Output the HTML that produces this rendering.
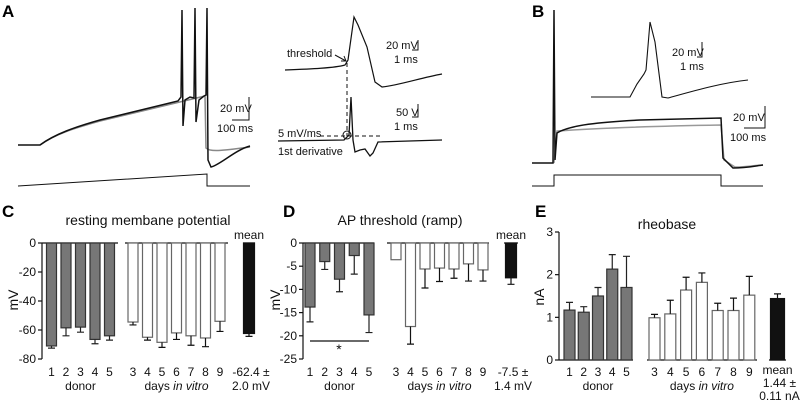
<!DOCTYPE html>
<html><head><meta charset="utf-8"><style>
body{margin:0;background:#fff;}
svg{display:block;font-family:"Liberation Sans",Arial,sans-serif;}
.t{font-size:11px;fill:#111}
.ti{font-size:13px;fill:#111}
.pl{font-size:17px;font-weight:bold;fill:#000}
</style></head><body>
<svg id="fig" width="800" height="407" viewBox="0 0 800 407">
<text class="pl" x="2" y="17">A</text>
<text class="pl" x="532" y="17">B</text>
<text class="pl" x="2" y="217">C</text>
<text class="pl" x="283" y="217">D</text>
<text class="pl" x="535" y="217">E</text>

<g fill="none">
<path stroke="#888" stroke-width="1.5" d="M40,145 C55,134 75,128 100,121 L205,96 L206,148 C210,152 220,151 250,147"/>
<path stroke="#111" stroke-width="1.5" d="M18,145 L40,145 C55,134 75,127 100,120 L178,101 L181,97 L182,10 L183,126 L185,100 L190,97 L194,98 L195,8 L196,122 L199,100 L204,96 L206,95 L207,8 L208,160 L211,167 C220,165 235,150 250,146"/>
<path stroke="#111" stroke-width="1" d="M18,186 L207,174 L207,186 L250,186"/>
<path stroke="#111" stroke-width="1" d="M249,97 L249,120 L232,120"/>
</g>
<text class="t" x="220" y="112">20 mV</text>
<text class="t" x="217" y="132">100 ms</text>

<g fill="none" stroke="#111">
<path stroke-width="1.2" d="M285,70 C310,69 335,68 345,65 L348,60 L354,17 L358,25 L367,47 L375,82 L382,87 C400,85 420,78 442,74"/>
<path stroke-width="1.3" d="M278,141 L344,140 L349,135 L351,97 L353,140 L355,152 L360,150 L365,149 L370,156 L373,153 L378,142 L442,140"/>
<path stroke-width="1" stroke-dasharray="4,3" d="M347,63 L347,136"/>
<path stroke-width="1" stroke-dasharray="4,3" d="M320,136 L380,136"/>
<circle cx="347" cy="135" r="4" stroke-width="1"/>
<path stroke-width="1" d="M335,55 L346,61 M341,61 L346,61 L344,56"/>
<path stroke-width="1" d="M418,40 L418,50 L412,50"/>
<path stroke-width="1" d="M418,104 L418,117 L412,117"/>
</g>
<text class="t" x="287" y="57">threshold</text>
<text class="t" x="386" y="49">20 mV</text>
<text class="t" x="394" y="63">1 ms</text>
<text class="t" x="396" y="116">50 V</text>
<text class="t" x="394" y="130">1 ms</text>
<text class="t" x="278" y="137">5 mV/ms</text>
<text class="t" x="278" y="155">1st derivative</text>

<g fill="none">
<path stroke="#999" stroke-width="1.5" d="M554,163 L557,131 C600,128 660,126 721,125 L724,160 L735,167 C748,167 755,165 763,165"/>
<path stroke="#111" stroke-width="1.5" d="M532,163 L553,163 L554,10 L555,160 L557,133 C570,125 600,122 640,120 L721,118 L723,158 L733,168 C745,168 755,166 763,165"/>
<path stroke="#111" stroke-width="1.1" d="M591,97 L630,97 L637,84 L644,74 L646,70 L650,22 L655,42 L662,97 L668,98 C690,92 720,83 748,80"/>
<path stroke="#111" stroke-width="1" d="M532,186 L554,186 L554,175 L721,175 L721,186 L763,186"/>
<path stroke="#111" stroke-width="1" d="M702,42 L702,57 L697,57"/>
<path stroke="#111" stroke-width="1" d="M765,106 L765,128 L744,128"/>
</g>
<text class="t" x="672" y="56">20 mV</text>
<text class="t" x="680" y="70">1 ms</text>
<text class="t" x="733" y="121">20 mV</text>
<text class="t" x="730" y="141">100 ms</text>

<g id="charts"></g>
</svg>
<script>
const cDonorCats = ["1","2","3","4","5"];
const cDonorVals = [-71, -58.5, -58, -66.5, -64];
const cDonorErr = [1.5, 5.5, 3.5, 3, 3];
const cDivCats = ["3","4","5","6","7","8","9"];
const cDivVals = [-54.5, -65, -68.5, -62, -64, -65.5, -54];
const cDivErr = [2, 2, 3.5, 4.5, 6.5, 6, 7];
const cMean = [-62.4];
const cMeanErr = [2];
const cTicks = [0, -20, -40, -60, -80];

const dDonorCats = ["1","2","3","4","5"];
const dDonorVals = [-13.8, -4, -7.8, -2.7, -15.5];
const dDonorErr = [3.2, 1.7, 2.7, 4, 3.8];
const dDivCats = ["3","4","5","6","7","8","9"];
const dDivVals = [-3.6, -18, -5.6, -5.4, -5.6, -4.5, -5.8];
const dDivErr = [0, 3.8, 4.1, 2.9, 2, 3.7, 2.4];
const dMean = [-7.5];
const dMeanErr = [1.4];
const dTicks = [0, -5, -10, -15, -20, -25];

const eDonorCats = ["1","2","3","4","5"];
const eDonorVals = [1.17, 1.12, 1.5, 2.13, 1.7];
const eDonorErr = [0.18, 0.13, 0.2, 0.34, 0.73];
const eDivCats = ["3","4","5","6","7","8","9"];
const eDivVals = [0.99, 1.08, 1.64, 1.82, 1.16, 1.16, 1.52];
const eDivErr = [0.08, 0.32, 0.3, 0.22, 0.17, 0.29, 0.44];
const eMean = [1.44];
const eMeanErr = [0.11];
const eTicks = [0, 1, 2, 3];

const NS = "http://www.w3.org/2000/svg";
const root = document.getElementById("charts");
function mk(tag, attrs, parent, txt) {
  const e = document.createElementNS(NS, tag);
  for (const k in attrs) e.setAttribute(k, attrs[k]);
  if (txt !== undefined) e.textContent = txt;
  (parent || root).appendChild(e);
  return e;
}

function barGroup(g, cats, vals, errs, x0, step, bw, y, fill, stroke, errCol, labelY, prefix) {
  cats.forEach((c, i) => {
    const cx = x0 + step * i;
    const v = vals[i];
    const top = Math.min(y(0), y(v)), h = Math.abs(y(v) - y(0));
    const r = mk("rect", {x: cx - bw / 2, y: top, width: bw, height: h, fill: fill, stroke: stroke, "stroke-width": 1.2}, g);
    
    
    if (errs[i] > 0) {
      const sign = v < 0 ? -1 : 1;
      const ye = y(v + sign * errs[i]);
      const eb = mk("path", {d: `M${cx},${y(v)} L${cx},${ye} M${cx - 3.5},${ye} L${cx + 3.5},${ye}`, stroke: errCol, "stroke-width": 1.2, fill: "none"}, g);
      
      
    }
    if (labelY) {
      const t = mk("text", {x: cx, y: labelY, class: "t", "text-anchor": "middle", style: "font-size:12px"}, g, c);
      
      
    }
  });
}

function chart(o) {
  const g = mk("g", {});
  
  
  const y = v => o.y0 + (v - o.vTop) / (o.vBot - o.vTop) * (o.y1 - o.y0);
  const ax = mk("line", {x1: o.ax, x2: o.ax, y1: o.y0, y2: o.y1, stroke: "#111", "stroke-width": 1.2}, g);
  
  
  o.ticks.forEach(t => {
    mk("line", {x1: o.ax - 4, x2: o.ax, y1: y(t), y2: y(t), stroke: "#111", "stroke-width": 1.2}, g);
    const tl = mk("text", {x: o.ax - 6, y: y(t) + 4, class: "t", "text-anchor": "end", style: "font-size:12px"}, g, String(t));
    
    
  });
  o.bases.forEach(b => {
    const l = mk("line", {x1: b[0], x2: b[1], y1: y(b[2]), y2: y(b[2]), stroke: "#111", "stroke-width": 1.2}, g);
    
    
  });
  barGroup(g, o.dCats, o.dVals, o.dErr, o.dx0, o.dstep, o.bw, y, "#777", "#333", "#222", o.labY, "donor");
  barGroup(g, o.vCats, o.vVals, o.vErr, o.vx0, o.vstep, o.bw, y, "#fff", "#666", "#111", o.labY, "div");
  barGroup(g, ["mean"], o.mVals, o.mErr, o.mx, 0, o.mbw, y, "#111", "#111", "#111", null, "mean");
  const yl = mk("text", {x: o.ylx, y: o.yly, class: "ti", "text-anchor": "middle", transform: `rotate(-90 ${o.ylx} ${o.yly})`, style: "font-size:14px"}, g, o.ylabel);
  
  
  const ti = mk("text", {x: o.tx, y: o.ty, class: "ti", "text-anchor": "middle", style: "font-size:14px"}, g, o.title);
  
  
  const dn = mk("text", {x: o.dx0 + o.dstep * 2, y: o.labY + 14, class: "t", "text-anchor": "middle", style: "font-size:12px"}, g, "donor");
  
  
  const dv = mk("text", {x: o.vx0 + o.vstep * 3, y: o.labY + 14, class: "t", "text-anchor": "middle", style: "font-size:12px"}, g);
  
  
  dv.innerHTML = 'days <tspan font-style="italic">in vitro</tspan>';
  o.meanLines.forEach((ln) => {
    const m = mk("text", {x: o.mx + (ln[1] || 0), y: ln[2], class: "t", "text-anchor": "middle", style: "font-size:12px"}, g, ln[0]);
    
    
  });
  return {g, y};
}

chart({name: "chart-resting-potential", ax: 42, y0: 243, y1: 359, vTop: 0, vBot: -80, ticks: cTicks,
  bases: [[42, 118, 0], [125, 228, 0], [243, 255, 0]],
  dCats: cDonorCats, dVals: cDonorVals, dErr: cDonorErr, dx0: 51.5, dstep: 14.5,
  vCats: cDivCats, vVals: cDivVals, vErr: cDivErr, vx0: 133, vstep: 14.5,
  mVals: cMean, mErr: cMeanErr, mx: 249, bw: 10, mbw: 11, labY: 376,
  ylabel: "mV", ylx: 18, yly: 300, title: "resting membane potential", tx: 148, ty: 225,
  meanLines: [["mean", 0, 239], [cMean[0].toFixed(1) + " \u00b1", 2, 376], [cMeanErr[0].toFixed(1) + " mV", 2, 390]]});

const dc = chart({name: "chart-ap-threshold", ax: 303, y0: 243, y1: 359, vTop: 0, vBot: -25, ticks: dTicks,
  bases: [[303, 374, 0], [387, 489, 0], [504, 518, 0]],
  dCats: dDonorCats, dVals: dDonorVals, dErr: dDonorErr, dx0: 310, dstep: 14.75,
  vCats: dDivCats, vVals: dDivVals, vErr: dDivErr, vx0: 396, vstep: 14.5,
  mVals: dMean, mErr: dMeanErr, mx: 511, bw: 10, mbw: 11, labY: 376,
  ylabel: "mV", ylx: 280, yly: 300, title: "AP threshold (ramp)", tx: 400, ty: 225,
  meanLines: [["mean", 0, 239], [dMean[0].toFixed(1) + " \u00b1", 2, 376], [dMeanErr[0].toFixed(1) + " mV", 2, 390]]});
const sig = mk("line", {x1: 310, x2: 369, y1: 341, y2: 341, stroke: "#111", "stroke-width": 1.2}, dc.g);


const star = mk("text", {x: 339, y: 354, class: "t", "text-anchor": "middle", style: "font-size:14px"}, dc.g, "*");



chart({name: "chart-rheobase", ax: 559, y0: 232, y1: 360, vTop: 3, vBot: 0, ticks: eTicks,
  bases: [[559, 633, 0], [647, 757, 0], [769, 786, 0]],
  dCats: eDonorCats, dVals: eDonorVals, dErr: eDonorErr, dx0: 569.5, dstep: 14.25,
  vCats: eDivCats, vVals: eDivVals, vErr: eDivErr, vx0: 654.5, vstep: 15.8,
  mVals: eMean, mErr: eMeanErr, mx: 777.5, bw: 11, mbw: 14, labY: 376,
  ylabel: "nA", ylx: 544, yly: 297, title: "rheobase", tx: 667, ty: 229,
  meanLines: [["mean", 0, 374], [eMean[0].toFixed(2) + " \u00b1", 2, 387], [eMeanErr[0].toFixed(2) + " nA", 2, 400]]});
</script>
</body></html>
